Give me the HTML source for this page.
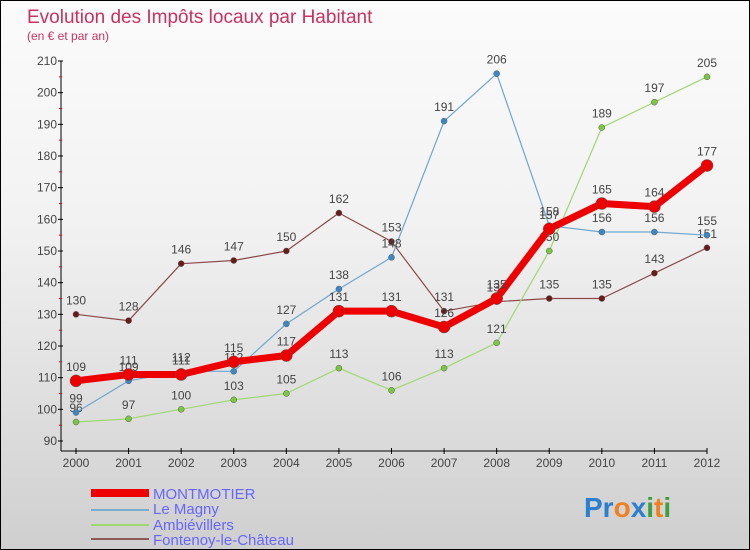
<!DOCTYPE html>
<html><head><meta charset="utf-8"><style>
body{margin:0}
#c{width:748px;height:548px;border:1px solid #000;background:linear-gradient(#fbfbfb,#f2f2f2 40%,#cfcfcf);position:relative;overflow:hidden;font-family:"Liberation Sans","DejaVu Sans",sans-serif}
</style></head><body>
<div id="c">
<svg id="s" width="748" height="548" xmlns="http://www.w3.org/2000/svg">
<text x="26" y="22" font-size="19" fill="#c8325f">Evolution des Impôts locaux par Habitant</text>
<text x="26" y="39" font-size="12" fill="#c8325f">(en € et par an)</text>
<g id="ax"></g><g id="ser"></g>
<g>
<rect x="90" y="488" width="58" height="8" fill="#e00"/>
<text x="152" y="498" font-size="15" fill="#6666ff">MONTMOTIER</text>
<rect x="90" y="508" width="58" height="2" fill="#7aaed0"/>
<text x="152" y="513" font-size="15" fill="#6666ff">Le Magny</text>
<rect x="90" y="523" width="58" height="2" fill="#9fd870"/>
<text x="152" y="529" font-size="15" fill="#6666ff">Ambiévillers</text>
<rect x="90" y="537" width="58" height="2" fill="#8c5a5a"/>
<text x="152" y="544" font-size="15" fill="#6666ff">Fontenoy-le-Château</text>
</g>
<text x="583" y="516" font-size="28" font-weight="bold"><tspan fill="#2a7fd0">Pr</tspan><tspan fill="#f08020">o</tspan><tspan fill="#2a7fd0">x</tspan><tspan fill="#40a040">i</tspan><tspan fill="#f08020">t</tspan><tspan fill="#40a040">i</tspan></text>
</svg></div>
<script>
const years=[2000,2001,2002,2003,2004,2005,2006,2007,2008,2009,2010,2011,2012];
const yTicks=[90,100,110,120,130,140,150,160,170,180,190,200,210];
const montmotier=[109,111,111,115,117,131,131,126,135,157,165,164,177];
const leMagny=[99,109,112,112,127,138,148,191,206,158,156,156,155];
const ambievillers=[96,97,100,103,105,113,106,113,121,150,189,197,205];
const fontenoy=[130,128,146,147,150,162,153,131,134,135,135,143,151];
const NS='http://www.w3.org/2000/svg';
const X=i=>75+i*(706-75)/12;
const Y=v=>440-(v-90)*380/120;
function mk(t,a,p){const e=document.createElementNS(NS,t);for(const k in a)e.setAttribute(k,a[k]);p.appendChild(e);return e;}
const ax=document.getElementById('ax'),ser=document.getElementById('ser');
const yl=mk('line',{x1:60,y1:Y(210),x2:60,y2:450,stroke:'#000'},ax);


yTicks.forEach((v,k)=>{
 mk('line',{x1:57,y1:Y(v),x2:62,y2:Y(v),stroke:'#000'},ax);
 if(k<yTicks.length-1) mk('line',{x1:58,y1:Y(v+5),x2:61,y2:Y(v+5),stroke:'#e00'},ax);
 const t=mk('text',{x:56,y:Y(v)+4,'font-size':12,fill:'#444','text-anchor':'end'},ax);t.textContent=v;
 
 
});
const xl=mk('line',{x1:60,y1:450,x2:706,y2:450,stroke:'#000'},ax);


years.forEach((y,i)=>{
 mk('line',{x1:X(i),y1:447,x2:X(i),y2:453,stroke:'#000'},ax);
 const t=mk('text',{x:X(i),y:466,'font-size':12,fill:'#444','text-anchor':'middle'},ax);t.textContent=y;
 
 
});
function series(d,col,w,r,dot,name){
 const g=mk('g',{},ser);
 
 
 mk('polyline',{points:d.map((v,i)=>X(i)+','+Y(v)).join(' '),fill:'none',stroke:col,'stroke-width':w,'stroke-linejoin':'round'},g);
 d.forEach((v,i)=>{
  const c=mk('circle',{cx:X(i),cy:Y(v),r:r,fill:dot,stroke:'#555','stroke-width':0.5},g);
  
  
  const t=mk('text',{x:X(i),y:Y(v)-10,'font-size':12,fill:'#444','text-anchor':'middle'},g);t.textContent=v;
  
  
 });
}
series(fontenoy,'#8c4a4a',1.2,3,'#6b1a1a','fontenoy');
series(ambievillers,'#9fd870',1.2,3,'#7ac840','ambievillers');
series(leMagny,'#6ea6d0',1.2,3,'#3a88c8','le-magny');
series(montmotier,'#ee0000',7,6,'#ee0000','montmotier');
</script>
</body></html>
